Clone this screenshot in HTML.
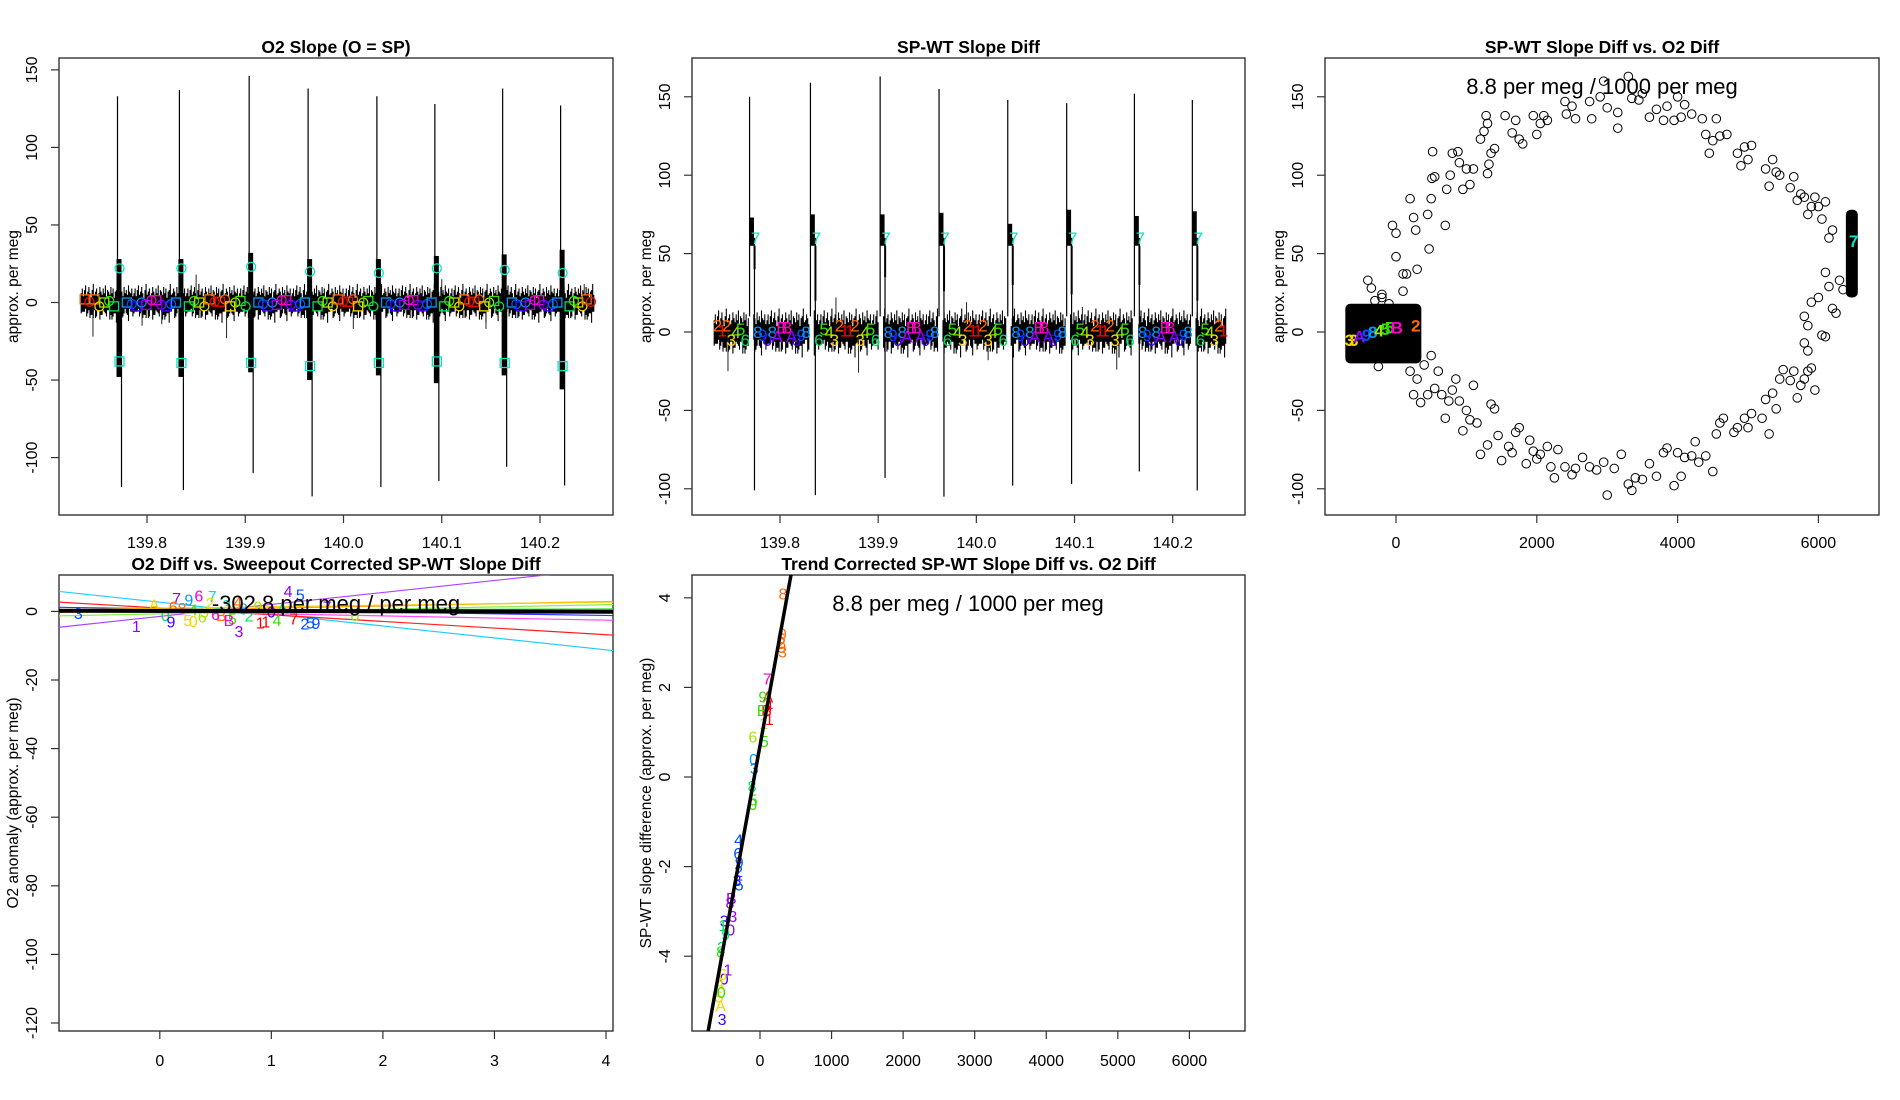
<!DOCTYPE html>
<html><head><meta charset="utf-8"><style>
html,body{margin:0;padding:0;background:#fff;}
svg{display:block;font-family:"Liberation Sans",Arial,sans-serif;}
</style></head><body>
<svg id="chart" width="1900" height="1100" viewBox="0 0 1900 1100" xmlns="http://www.w3.org/2000/svg">
<defs>
<clipPath id="c1"><rect x="59" y="58" width="554" height="457"/></clipPath>
<clipPath id="c2"><rect x="692" y="58" width="553" height="457"/></clipPath>
<clipPath id="c3"><rect x="1325" y="58" width="554" height="457"/></clipPath>
<clipPath id="c4"><rect x="59" y="575" width="554" height="456"/></clipPath>
<clipPath id="c5"><rect x="692" y="575" width="553" height="456"/></clipPath>
</defs>
</svg>
<script>
// ---------- data ----------
const seriesStart = 139.733;
const seriesEnd = 140.255;
const noiseHi = [6,9,4,8,11,5,7,10,6,3,8,12,5,7,9,4,6,10,7,5,9,6,11,4,8,7,5,10,6,9,3,7,8,12,5,6,9,7,4,10,6,8,5,11,7,6,9,4];
const noiseLo = [-7,-5,-9,-6,-11,-4,-8,-6,-10,-5,-7,-9,-4,-12,-6,-8,-5,-9,-7,-10,-4,-6,-8,-11,-5,-7,-9,-6,-4,-10,-8,-5,-13,-7,-6,-9,-5,-8,-11,-6,-4,-9,-7,-10,-5,-8,-6,-7];
const p1SpikeTimes = [139.771,139.834,139.905,139.965,140.035,140.094,140.163,140.222];
const p1SpikeMax = [133,137,146,138,133,128,138,127];
const p1SpikeMin = [-119,-121,-110,-125,-119,-115,-106,-118];
const p1BurstHi = [28,28,32,28,28,30,31,34];
const p1BurstLo = [-48,-48,-45,-50,-47,-52,-47,-56];
const p1CircleY = [22,22,23,20,19,22,21,19];
const p1SquareY = [-38,-39,-39,-41,-39,-38,-39,-41];
const p1OutlierT = [139.745,139.795,139.881,139.85,140.01,140.145,140.1,140.245,139.815];
const p1OutlierV = [-22,-15,-23,18,-17,-17,15,12,-14];
const p2SpikeTimes = [139.769,139.831,139.902,139.962,140.032,140.092,140.161,140.220];
const p2SpikeMax = [150,159,163,155,148,146,152,148];
const p2SpikeMin = [-101,-104,-93,-105,-98,-97,-89,-101];
const p2PlateauHi = [73,75,75,76,69,78,74,77];
const p2PlateauLo = [40,20,35,26,30,24,30,20];
const p2OutlierT = [139.747,139.88,139.857,139.99,140.012,140.143,140.108];
const p2OutlierV = [-25,-26,22,19,-18,-24,16];
const segLabels = ["2123456","8908ABBA098","654321123456","8908ABBA098","654321123456","8908ABBA098","654321123456","8908ABBA098","654321"];
const labelKeys = ["1","2","3","4","5","6","7","8","9","0","A","B"];
const labelColors = ["#ff0000","#ff6a00","#f5d800","#a0e800","#33e000","#00e060","#00e8c0","#0099ff","#0050ff","#3a00ff","#9000ff","#ff00d0"];
const labelOffsets = [1,4,-5,0,2,-5,0,0,-2,-5,-3,3];
// panel 3
const p3X = [-400,-350,-200,0,-50,0,100,200,250,280,300,450,470,500,520,510,550,700,720,770,800,880,900,950,1000,1050,1100,1200,1250,1280,1300,1300,1320,1350,1400,1550,1650,1700,1750,1800,1950,2000,2050,2100,2150,2400,2420,2500,2550,2750,2780,2900,2950,3000,3150,3150,3300,3350,3450,3500,3600,3700,3800,3850,3950,4000,4050,4100,4200,4350,4400,4450,4500,4550,4600,4700,4850,4900,4950,5000,5050,5250,5300,5350,5400,5450,5600,5650,5700,5750,5800,5850,5900,5950,6000,6050,6100,6150,6200,6100,6150,6200,6250,6300,6350,5900,5800,5850,5800,5850,6050,6000,6100,200,250,300,350,400,450,500,550,600,650,700,750,800,850,900,950,1000,1050,1100,1150,1200,1300,1350,1400,1450,1500,1600,1650,1700,1750,1850,1900,1950,2000,2050,2150,2200,2250,2300,2400,2500,2550,2650,2750,2850,2950,3000,3100,3200,3300,3350,3400,3500,3600,3700,3800,3850,3950,4000,4050,4100,4200,4250,4300,4400,4500,4550,4600,4650,4800,4850,4950,5000,5050,5200,5250,5300,5350,5400,5450,5500,5600,5650,5700,5750,5800,5850,5900,5950,-300,-200,-100,100,150,-250];
const p3Y = [33,28,22,48,68,63,37,85,73,65,40,75,53,85,115,98,99,68,91,100,114,115,108,91,104,94,104,123,128,138,133,101,107,114,117,138,127,135,123,120,138,126,133,138,135,147,139,144,136,147,136,150,160,143,140,130,163,149,148,152,137,142,135,144,135,150,137,145,139,136,126,114,122,136,125,126,114,106,118,110,119,104,93,110,102,100,92,99,84,88,86,75,80,86,80,72,83,60,65,38,29,15,12,33,27,19,10,4,-7,-12,-2,22,-3,-25,-40,-30,-45,-21,-40,-15,-36,-25,-40,-55,-44,-37,-30,-44,-63,-50,-56,-34,-58,-78,-72,-46,-49,-66,-82,-73,-77,-64,-61,-84,-69,-76,-81,-78,-73,-86,-93,-75,-86,-91,-87,-80,-86,-88,-83,-104,-87,-78,-97,-101,-93,-94,-84,-92,-77,-74,-98,-77,-92,-80,-79,-70,-83,-79,-89,-65,-58,-55,-64,-61,-55,-61,-52,-55,-43,-65,-39,-49,-30,-24,-31,-25,-42,-34,-30,-25,-23,-37,20,24,18,26,37,-22];
const p3ClusterLeftX = [-720,360];
const p3ClusterLeftY = [-20,18];
const p3ClusterRightX = [6390,6560];
const p3ClusterRightY = [22,78];
const p3LabelX = [-660,-600,-520,-420,-330,-240,-150,-90,10,280,6500];
const p3LabelY = [-5,-5,-3,-2,0,1,2,3,3,4,58];
const p3LabelText = ["3","3","A","9","8","4","5","5","B","2","7"];
// panel 4
const p4Slopes = [-3.47,3.49,-1.94,0.645,0.665,0.08,-0.625,-0.484,0.45];
const p4Intercepts = [2.68,-1.46,0.96,0.28,-0.70,0.37,-0.06,0.76,0.9];
const p4LineColors = ["#22ccff","#b040ff","#ff2020","#ff9900","#88ee44","#22dd22","#ff44ff","#3333ff","#ffcc00"];
const p4BlackSlope = -0.06;
const p4BlackIntercept = 0.15;
const p4LabelX = [-0.73,-0.21,0.15,0.26,0.35,0.47,1.15,1.26,0.71,1.30,1.35,1.40,1.75,-0.05,0.05,0.12,0.2,0.25,0.3,0.38,0.45,0.55,0.6,0.65,0.75,0.8,0.88,0.95,1.0,1.05,1.1,1.2,0.1,0.3,0.5,0.7,0.9,1.5,0.62,0.4];
const p4LabelY = [-0.5,-4.2,3.9,3.5,4.6,4.5,6.0,5.0,-5.7,-3.5,-3.3,-3.4,-1.0,2.0,-1.0,1.5,1.0,-2.5,0.5,-1.5,2.5,-1.0,1.8,-2.0,0.8,-1.2,1.5,-3.0,0.0,-2.5,1.0,-2.0,-3.0,-2.8,-0.8,2.8,-3.2,1.5,-2.5,0.0];
const p4LabelText = ["3","1","7","9","6","7","4","5","3","2","5","9","0","A","0","6","8","5","4","6","2","B","3","5","8","2","9","1","0","4","A","7","9","0","6","4","1","7","B","3"];
const p4LabelColor = [8,10,10,7,11,6,10,8,10,8,8,8,3,2,5,1,1,2,4,3,2,1,6,4,7,5,3,0,9,4,6,0,9,2,11,1,0,10,11,3];
// panel 5
const p5Slope = 0.0088;
const p5Intercept = 0.7;
const p5LabelX = [320,310,300,305,295,315,100,110,90,120,130,40,30,50,60,-100,-90,-80,-110,-95,-100,-300,-310,-290,-300,-320,-290,-400,-420,-380,-410,-500,-520,-480,-540,-550,-450,-500,-520,-560,-570,-550,-530,-540];
const p5LabelY = [4.1,3.2,3.0,2.9,3.1,2.8,2.2,1.8,1.5,1.6,1.3,1.8,1.5,1.2,0.8,0.9,0.4,0.2,-0.2,-0.5,-0.6,-1.4,-1.7,-1.9,-2.1,-2.3,-2.4,-2.7,-2.8,-3.1,-3.4,-3.2,-3.3,-3.5,-3.8,-3.9,-4.3,-4.5,-4.4,-4.6,-4.9,-5.1,-5.4,-4.8];
const p5LabelText = ["8","0","2","9","6","3","7","A","B","4","1","9","B","1","5","6","0","3","8","5","0","4","6","9","2","3","5","B","8","3","0","3","1","9","2","8","1","0","6","4","5","A","3","0"];
const p5LabelColor = [1,1,1,1,1,1,11,0,0,0,0,4,4,3,4,3,7,7,5,4,4,8,8,8,8,9,8,10,10,10,10,9,5,5,5,4,10,9,2,2,2,2,9,4];

// ---------- helpers ----------
const NS = "http://www.w3.org/2000/svg";
const svg = document.getElementById("chart");
function mk(tag, attrs, parent) {
  const e = document.createElementNS(NS, tag);
  for (const k in attrs) e.setAttribute(k, attrs[k]);
  (parent || svg).appendChild(e);
  return e;
}
function colorOf(k){ return labelColors[labelKeys.indexOf(k)]; }
function offsetOf(k){ return labelOffsets[labelKeys.indexOf(k)]; }
function lin(d0, d1, r0, r1){ return v => r0 + (v - d0) * (r1 - r0) / (d1 - d0); }

function axes(P, xt, xlab, yt, ylab, title, ytitle, tickLabelY) {
  const g = mk("g", {});
  
  
  const box = mk("rect", {x:P.x0, y:P.y0, width:P.x1-P.x0, height:P.y1-P.y0, fill:"none", stroke:"#333", "stroke-width":1.4}, g);
  
  
  xt.forEach((v, i) => {
    const x = P.xs(v);
    const t = mk("line", {x1:x, x2:x, y1:P.y1, y2:P.y1+8, stroke:"#333", "stroke-width":1.2}, g);
    
    
    const l = mk("text", {x:x, y:tickLabelY, "font-size":16, "text-anchor":"middle", fill:"#000"}, g);
    l.textContent = xlab[i];
    
    
  });
  yt.forEach((v, i) => {
    const y = P.ys(v);
    const t = mk("line", {x1:P.x0-8, x2:P.x0, y1:y, y2:y, stroke:"#333", "stroke-width":1.2}, g);
    
    
    const lx = P.x0 - 22;
    const l = mk("text", {x:lx, y:y, "font-size":16, "text-anchor":"middle", transform:"rotate(-90 "+lx+" "+y+")", fill:"#000"}, g);
    l.textContent = ylab[i];
    
    
  });
  const tt = mk("text", {x:(P.x0+P.x1)/2, y:P.y0-5, "font-size":17.5, "font-weight":"bold", "text-anchor":"middle"}, g);
  tt.textContent = title;
  
  
  const yx = P.x0 - 41, yy = (P.y0+P.y1)/2;
  const yt2 = mk("text", {x:yx, y:yy, "font-size":15.5, "text-anchor":"middle", transform:"rotate(-90 "+yx+" "+yy+")"}, g);
  yt2.textContent = ytitle;
  
  
}

function noiseBand(P, g, scale, gaps) {
  let d = "";
  const px0 = P.xs(seriesStart), px1 = P.xs(seriesEnd);
  let i = 0;
  for (let px = px0; px <= px1; px += 1.1, i++) {
    const t = P.xinv(px);
    let skip = false;
    gaps.forEach(s => { if (t > s - 0.0012 && t < s + 0.0035) skip = true; });
    if (skip) continue;
    const hi = noiseHi[i % noiseHi.length] * scale, lo = noiseLo[(i * 7) % noiseLo.length] * scale;
    d += "M" + px.toFixed(1) + " " + P.ys(hi).toFixed(1) + "V" + P.ys(lo).toFixed(1);
  }
  const p = mk("path", {d:d, stroke:"#000", "stroke-width":1.1, fill:"none"}, g);
  
  
}

// ---------- panel 1 ----------
const P1 = {name:"o2-slope", x0:59, x1:613, y0:58, y1:515};
P1.xs = lin(139.8, 140.2, 147, 540); P1.xinv = lin(147, 540, 139.8, 140.2);
P1.ys = lin(0, 100, 302.5, 147.4);
axes(P1, [139.8,139.9,140.0,140.1,140.2], ["139.8","139.9","140.0","140.1","140.2"], [-100,-50,0,50,100,150], ["-100","-50","0","50","100","150"], "O2 Slope (O = SP)", "approx. per meg", 548);
const g1 = mk("g", {"clip-path":"url(#c1)"});


noiseBand(P1, g1, 1, []);
p1OutlierT.forEach((t, i) => {
  const o = mk("line", {x1:P1.xs(t), x2:P1.xs(t), y1:P1.ys(0), y2:P1.ys(p1OutlierV[i]), stroke:"#222", "stroke-width":1}, g1);
  
  
});
p1SpikeTimes.forEach((t, i) => {
  const x = P1.xs(t);
  const b = mk("rect", {x:x-2, y:P1.ys(p1BurstHi[i]), width:5, height:P1.ys(p1BurstLo[i])-P1.ys(p1BurstHi[i]), fill:"#000"}, g1);
  
  
  const u = mk("line", {x1:x-1, x2:x-1, y1:P1.ys(0), y2:P1.ys(p1SpikeMax[i]), stroke:"#000", "stroke-width":1.2}, g1);
  
  
  const d = mk("line", {x1:x+3, x2:x+3, y1:P1.ys(0), y2:P1.ys(p1SpikeMin[i]), stroke:"#000", "stroke-width":1.2}, g1);
  
  
  const c = mk("circle", {cx:x+1, cy:P1.ys(p1CircleY[i]), r:4.5, fill:"none", stroke:"#00e8c0", "stroke-width":1.3}, g1);
  
  
  const s = mk("rect", {x:x-3.5, y:P1.ys(p1SquareY[i])-4.5, width:9, height:9, fill:"none", stroke:"#00e8c0", "stroke-width":1.3}, g1);
  
  
});
// ---------- panel 2 ----------
const P2 = {name:"sp-wt-slope-diff", x0:692, x1:1245, y0:58, y1:515};
P2.xs = lin(139.8, 140.2, 780, 1172.7); P2.xinv = lin(780, 1172.7, 139.8, 140.2);
P2.ys = lin(0, 100, 332, 175.2);
axes(P2, [139.8,139.9,140.0,140.1,140.2], ["139.8","139.9","140.0","140.1","140.2"], [-100,-50,0,50,100,150], ["-100","-50","0","50","100","150"], "SP-WT Slope Diff", "approx. per meg", 548);
const g2 = mk("g", {"clip-path":"url(#c2)"});


noiseBand(P2, g2, 1.25, p2SpikeTimes);
p2OutlierT.forEach((t, i) => {
  const o = mk("line", {x1:P2.xs(t), x2:P2.xs(t), y1:P2.ys(0), y2:P2.ys(p2OutlierV[i]), stroke:"#222", "stroke-width":1}, g2);
  
  
});
p2SpikeTimes.forEach((t, i) => {
  const x = P2.xs(t);
  const pl = mk("rect", {x:x, y:P2.ys(p2PlateauHi[i]), width:P2.xs(t+0.0045)-x, height:P2.ys(55)-P2.ys(p2PlateauHi[i]), fill:"#000"}, g2);
  
  
  const pl2 = mk("line", {x1:x+5, x2:x+5, y1:P2.ys(55), y2:P2.ys(p2PlateauLo[i]), stroke:"#000", "stroke-width":2}, g2);
  
  
  const u = mk("line", {x1:x, x2:x, y1:P2.ys(10), y2:P2.ys(p2SpikeMax[i]), stroke:"#000", "stroke-width":1.2}, g2);
  
  
  const xd = P2.xs(t+0.005);
  const d = mk("line", {x1:xd, x2:xd, y1:P2.ys(60), y2:P2.ys(p2SpikeMin[i]), stroke:"#000", "stroke-width":1.2}, g2);
  
  
  const l = mk("text", {x:x+6, y:P2.ys(56), "font-size":17, "text-anchor":"middle", fill:"#00e8c0"}, g2);
  l.textContent = "7";
  
  
});
// segment labels (panel 2) and markers (panel 1)
function segBounds(times, k) {
  const a = k === 0 ? seriesStart + 0.001 : times[k-1] + 0.006;
  const b = k === times.length ? seriesEnd - 0.001 : times[k] - 0.002;
  return [a, b];
}
segLabels.forEach((seq, k) => {
  const [a, b] = segBounds(p2SpikeTimes, k);
  const n = seq.length;
  for (let j = 0; j < n; j++) {
    const ch = seq[j];
    const t = a + (b - a) * (j + 0.5) / n;
    const l = mk("text", {x:P2.xs(t), y:P2.ys(offsetOf(ch))+6, "font-size":17, "text-anchor":"middle", fill:colorOf(ch)}, g2);
    l.textContent = ch;
    
    
  }
  const [a1, b1] = segBounds(p1SpikeTimes, k);
  for (let j = 0; j < n; j++) {
    const ch = seq[j];
    const t = a1 + (b1 - a1) * (j + 0.5) / n;
    const x = P1.xs(t), y = P1.ys(offsetOf(ch) * 0.5);
    let m;
    if (j % 2 === 0) m = mk("rect", {x:x-4.5, y:y-4.5, width:9, height:9, fill:"none", stroke:colorOf(ch), "stroke-width":1.3}, g1);
    else m = mk("circle", {cx:x, cy:y, r:4.5, fill:"none", stroke:colorOf(ch), "stroke-width":1.3}, g1);
    
    
  }
});
// ---------- panel 3 ----------
const P3 = {name:"slope-diff-vs-o2", x0:1325, x1:1879, y0:58, y1:515};
P3.xs = lin(0, 6000, 1396, 1818.4);
P3.ys = P2.ys;
axes(P3, [0,2000,4000,6000], ["0","2000","4000","6000"], [-100,-50,0,50,100,150], ["-100","-50","0","50","100","150"], "SP-WT Slope Diff vs. O2 Diff", "approx. per meg", 548);
const g3 = mk("g", {"clip-path":"url(#c3)"});


const cl = mk("rect", {x:P3.xs(p3ClusterLeftX[0]), y:P3.ys(p3ClusterLeftY[1]), width:P3.xs(p3ClusterLeftX[1])-P3.xs(p3ClusterLeftX[0]), height:P3.ys(p3ClusterLeftY[0])-P3.ys(p3ClusterLeftY[1]), rx:5, fill:"#000"}, g3);


const cr = mk("rect", {x:P3.xs(p3ClusterRightX[0]), y:P3.ys(p3ClusterRightY[1]), width:P3.xs(p3ClusterRightX[1])-P3.xs(p3ClusterRightX[0]), height:P3.ys(p3ClusterRightY[0])-P3.ys(p3ClusterRightY[1]), rx:5, fill:"#000"}, g3);


p3X.forEach((xv, i) => {
  const c = mk("circle", {cx:P3.xs(xv), cy:P3.ys(p3Y[i]), r:4.3, fill:"none", stroke:"#000", "stroke-width":1}, g3);
  
  
});
p3LabelX.forEach((xv, i) => {
  const ch = p3LabelText[i];
  const l = mk("text", {x:P3.xs(xv), y:P3.ys(p3LabelY[i])+6, "font-size":17, "font-weight":"bold", "text-anchor":"middle", fill:colorOf(ch)}, g3);
  l.textContent = ch;
  
  
});
const a3 = mk("text", {x:1602, y:94, "font-size":22, "text-anchor":"middle"});
a3.textContent = "8.8 per meg / 1000 per meg";


// ---------- panel 4 ----------
const P4 = {name:"o2-diff-vs-corrected", x0:59, x1:613, y0:575, y1:1031};
P4.xs = lin(0, 4, 159.8, 606); P4.xinv = lin(159.8, 606, 0, 4);
P4.ys = lin(0, -120, 611.4, 1023);
axes(P4, [0,1,2,3,4], ["0","1","2","3","4"], [-120,-100,-80,-60,-40,-20,0], ["-120","-100","-80","-60","-40","-20","0"], "O2 Diff vs. Sweepout Corrected SP-WT Slope Diff", "O2 anomaly (approx. per meg)", 1066);
const g4 = mk("g", {"clip-path":"url(#c4)"});


const xa = P4.xinv(59), xb = P4.xinv(613);
p4Slopes.forEach((s, i) => {
  const l = mk("line", {x1:59, x2:613, y1:P4.ys(p4Intercepts[i]+s*xa), y2:P4.ys(p4Intercepts[i]+s*xb), stroke:p4LineColors[i], "stroke-width":1.2}, g4);
  
  
});
p4LabelX.forEach((xv, i) => {
  const l = mk("text", {x:P4.xs(xv), y:P4.ys(p4LabelY[i])+6, "font-size":16, "text-anchor":"middle", fill:labelColors[p4LabelColor[i]]}, g4);
  l.textContent = p4LabelText[i];
  
  
});
const bl = mk("line", {x1:59, x2:613, y1:P4.ys(p4BlackIntercept+p4BlackSlope*xa), y2:P4.ys(p4BlackIntercept+p4BlackSlope*xb), stroke:"#000", "stroke-width":4}, g4);


const a4 = mk("text", {x:336, y:611, "font-size":22, "text-anchor":"middle"});
a4.textContent = "-302.8 per meg / per meg";


// ---------- panel 5 ----------
const P5 = {name:"trend-corrected", x0:692, x1:1245, y0:575, y1:1031};
P5.xs = lin(0, 6000, 760, 1189.4); P5.xinv = lin(760, 1189.4, 0, 6000);
P5.ys = lin(0, 4, 777, 597.8);
axes(P5, [0,1000,2000,3000,4000,5000,6000], ["0","1000","2000","3000","4000","5000","6000"], [-4,-2,0,2,4], ["-4","-2","0","2","4"], "Trend Corrected SP-WT Slope Diff vs. O2 Diff", "SP-WT slope difference (approx. per meg)", 1066);
const g5 = mk("g", {"clip-path":"url(#c5)"});


p5LabelX.forEach((xv, i) => {
  const l = mk("text", {x:P5.xs(xv), y:P5.ys(p5LabelY[i])+6, "font-size":16, "text-anchor":"middle", fill:labelColors[p5LabelColor[i]]}, g5);
  l.textContent = p5LabelText[i];
  
  
});
const xa5 = P5.xinv(692), xb5 = P5.xinv(1245);
const fl = mk("line", {x1:692, x2:1245, y1:P5.ys(p5Intercept+p5Slope*xa5), y2:P5.ys(p5Intercept+p5Slope*xb5), stroke:"#000", "stroke-width":3.5}, g5);


const a5 = mk("text", {x:968, y:611, "font-size":22, "text-anchor":"middle"});
a5.textContent = "8.8 per meg / 1000 per meg";


</script>
</body></html>
